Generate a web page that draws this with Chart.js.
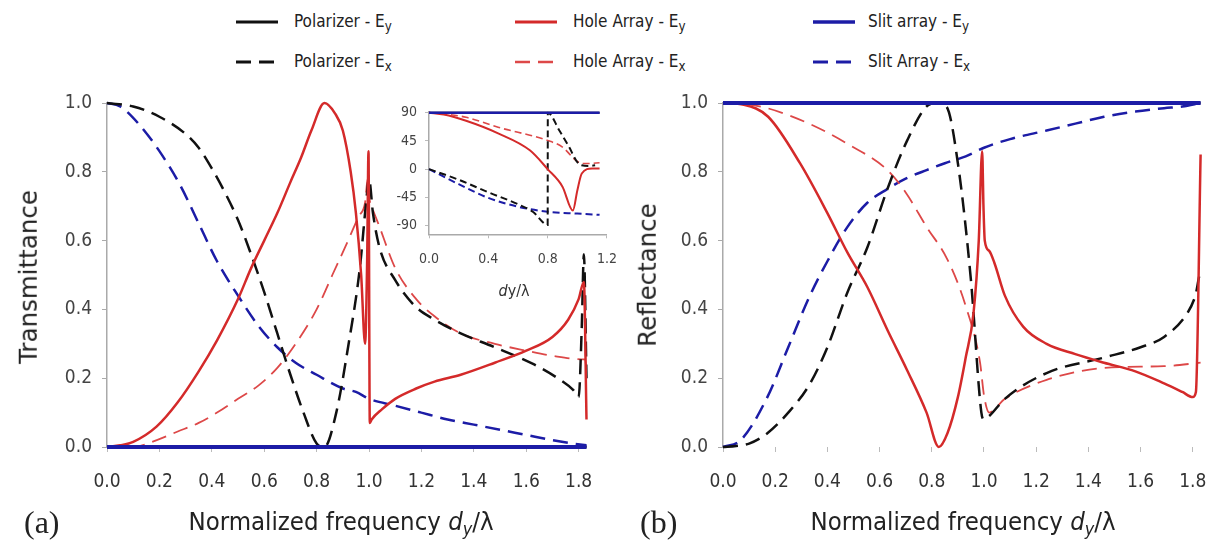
<!DOCTYPE html>
<html>
<head>
<meta charset="utf-8">
<script src="https://cdn.jsdelivr.net/npm/chart.js@4/dist/chart.umd.min.js"></script>
<style>
  body { margin: 0; background: #fff; width: 1231px; height: 548px; position: relative; overflow: hidden;
         font-family: "DejaVu Sans Condensed", "DejaVu Sans", sans-serif; color: #222; }
  canvas { position: absolute; top: 0; }
  .t { position: absolute; white-space: nowrap; line-height: 1; }
  .lg { font-size: 17px; }
  .lg sub { font-size: 0.78em; vertical-align: -0.3em; line-height: 0; }
  .lgl { position: absolute; }
  .ytitle { font-family: "DejaVu Sans", sans-serif; font-size: 24.5px; transform: translate(-50%, -50%) rotate(-90deg); }
  .xtitle { font-size: 25.5px; transform: translateX(-50%); }
  .xtitle i { font-style: italic; }
  .xtitle sub { font-size: 0.7em; vertical-align: -0.3em; line-height: 0; font-style: italic; }
  .panel { font-family: "Liberation Serif", "DejaVu Serif", serif; font-size: 32px; }
</style>
</head>
<body>

<!-- legend -->
<svg class="lgl" style="left:236px;top:18px" width="42" height="8"><line x1="0" y1="4" x2="42" y2="4" stroke="#111" stroke-width="3"/></svg>
<div class="t lg" style="left:294px;top:13px">Polarizer - E<sub>y</sub></div>
<svg class="lgl" style="left:236px;top:58px" width="42" height="8"><line x1="0" y1="4" x2="42" y2="4" stroke="#111" stroke-width="3" stroke-dasharray="15 8"/></svg>
<div class="t lg" style="left:294px;top:53px">Polarizer - E<sub>x</sub></div>

<svg class="lgl" style="left:515px;top:18px" width="42" height="8"><line x1="0" y1="4" x2="42" y2="4" stroke="#d42a2a" stroke-width="3"/></svg>
<div class="t lg" style="left:573px;top:13px">Hole Array - E<sub>y</sub></div>
<svg class="lgl" style="left:515px;top:58px" width="42" height="8"><line x1="0" y1="4" x2="42" y2="4" stroke="#dd4848" stroke-width="2.5" stroke-dasharray="15 8"/></svg>
<div class="t lg" style="left:573px;top:53px">Hole Array - E<sub>x</sub></div>

<svg class="lgl" style="left:813px;top:18px" width="42" height="8"><line x1="0" y1="4" x2="42" y2="4" stroke="#1c1ca6" stroke-width="3.5"/></svg>
<div class="t lg" style="left:868px;top:13px">Slit array - E<sub>y</sub></div>
<svg class="lgl" style="left:813px;top:58px" width="42" height="8"><line x1="0" y1="4" x2="42" y2="4" stroke="#1c1ca6" stroke-width="3" stroke-dasharray="15 8"/></svg>
<div class="t lg" style="left:868px;top:53px">Slit Array - E<sub>x</sub></div>

<canvas id="chartA" width="615" height="548" style="left:0"></canvas>
<canvas id="chartB" width="616" height="548" style="left:615px"></canvas>
<canvas id="chartInset" width="270" height="215" style="left:360px;top:95px"></canvas>

<div class="t ytitle" style="left:29px;top:277px">Transmittance</div>
<div class="t ytitle" style="left:648px;top:275px">Reflectance</div>
<div class="t xtitle" style="left:341px;top:509px">Normalized frequency <i>d</i><sub>y</sub>/λ</div>
<div class="t xtitle" style="left:963px;top:509px">Normalized frequency <i>d</i><sub>y</sub>/λ</div>
<div class="t panel" style="left:24px;top:506px">(a)</div>
<div class="t panel" style="left:640px;top:506px">(b)</div>
<div class="t" style="left:514px;top:283px;font-size:16px;transform:translateX(-50%);color:#333"><i>d</i>y/λ</div>

<script>
// ticks
const xTicks = [0, 0.2, 0.4, 0.6, 0.8, 1.0, 1.2, 1.4, 1.6, 1.8];
const yTicks = [0, 0.2, 0.4, 0.6, 0.8, 1.0];
const insetXTicks = [0, 0.4, 0.8, 1.2];
const insetYTicks = [-90, -45, 0, 45, 90];

// (a) transmittance
const flatX = [0, 1.83];
const polEyT = [0, 0];
const slitEyT = [0, 0];

const polExT_x = [0, 0.1, 0.2, 0.3, 0.35, 0.4, 0.45, 0.5, 0.55, 0.6, 0.65, 0.7, 0.75, 0.8, 0.83, 0.875, 0.92, 0.965, 0.99, 1.0, 1.015, 1.04, 1.1, 1.175, 1.25, 1.35, 1.48, 1.63, 1.72, 1.78, 1.8, 1.812, 1.82, 1.83];
const polExT_y = [1.0, 0.99, 0.96, 0.91, 0.87, 0.81, 0.74, 0.66, 0.56, 0.45, 0.33, 0.21, 0.1, 0.01, 0.0, 0.1, 0.29, 0.52, 0.72, 0.78, 0.68, 0.58, 0.485, 0.41, 0.37, 0.33, 0.29, 0.24, 0.2, 0.165, 0.145, 0.35, 0.56, 0.2];

const holeEyT_x = [0, 0.05, 0.1, 0.19, 0.27, 0.35, 0.42, 0.5, 0.55, 0.6, 0.65, 0.7, 0.74, 0.78, 0.83, 0.87, 0.9, 0.93, 0.95, 0.97, 0.985, 0.993, 0.998, 1.003, 1.01, 1.05, 1.1, 1.18, 1.25, 1.35, 1.48, 1.6, 1.7, 1.76, 1.8, 1.82, 1.83];
const holeEyT_y = [0, 0.005, 0.015, 0.06, 0.13, 0.22, 0.31, 0.43, 0.52, 0.6, 0.68, 0.77, 0.84, 0.92, 1.0, 0.97, 0.92, 0.8, 0.68, 0.5, 0.3, 0.55, 0.86, 0.07, 0.08, 0.11, 0.14, 0.17, 0.19, 0.21, 0.245, 0.28, 0.32, 0.37, 0.43, 0.48, 0.08];

const holeExT_x = [0, 0.1, 0.19, 0.27, 0.35, 0.42, 0.5, 0.58, 0.65, 0.72, 0.8, 0.86, 0.92, 0.96, 0.985, 0.995, 1.002, 1.01, 1.04, 1.1, 1.18, 1.25, 1.35, 1.48, 1.6, 1.7, 1.81, 1.825, 1.83];
const holeExT_y = [0, 0.0, 0.02, 0.045, 0.07, 0.1, 0.14, 0.18, 0.23, 0.3, 0.4, 0.5, 0.6, 0.67, 0.71, 0.78, 0.72, 0.7, 0.64, 0.52, 0.43, 0.38, 0.33, 0.3, 0.28, 0.265, 0.255, 0.255, 0.22];

const slitExT_x = [0, 0.05, 0.12, 0.2, 0.28, 0.35, 0.42, 0.5, 0.58, 0.65, 0.72, 0.8, 0.9, 0.95, 1.0, 1.1, 1.2, 1.3, 1.4, 1.5, 1.6, 1.7, 1.78, 1.83];
const slitExT_y = [1.0, 0.99, 0.94, 0.86, 0.76, 0.65, 0.54, 0.44, 0.35, 0.29, 0.245, 0.21, 0.17, 0.16, 0.14, 0.12, 0.1, 0.08, 0.065, 0.05, 0.035, 0.02, 0.01, 0.005];

// (b) reflectance
const polEyR = [1, 1];
const slitEyR = [1, 1];

const polExR_x = [0, 0.05, 0.1, 0.17, 0.25, 0.33, 0.4, 0.477, 0.553, 0.63, 0.705, 0.78, 0.82, 0.856, 0.9, 0.95, 0.99, 1.0, 1.02, 1.08, 1.24, 1.46, 1.6, 1.69, 1.78, 1.81, 1.83, 1.835];
const polExR_y = [0, 0.003, 0.01, 0.04, 0.1, 0.18, 0.29, 0.45, 0.58, 0.75, 0.89, 0.99, 1.0, 0.99, 0.825, 0.485, 0.1, 0.08, 0.09, 0.14, 0.215, 0.26, 0.29, 0.32, 0.39, 0.44, 0.505, 0.13];

const holeEyR_x = [0, 0.08, 0.173, 0.295, 0.4, 0.477, 0.553, 0.63, 0.705, 0.78, 0.827, 0.86, 0.9, 0.93, 0.96, 0.98, 0.993, 0.998, 1.003, 1.02, 1.04, 1.08, 1.15, 1.24, 1.35, 1.46, 1.58, 1.69, 1.76, 1.8, 1.812, 1.83];
const holeEyR_y = [1.0, 0.995, 0.96, 0.825, 0.68, 0.565, 0.465, 0.34, 0.224, 0.1, 0.0, 0.04, 0.145, 0.26, 0.39, 0.6, 0.86, 0.7, 0.6, 0.57, 0.535, 0.44, 0.35, 0.3, 0.27, 0.245, 0.22, 0.185, 0.16, 0.145, 0.16, 0.85];

const holeExR_x = [0, 0.1, 0.17, 0.33, 0.48, 0.63, 0.7, 0.78, 0.86, 0.93, 0.985, 1.0, 1.02, 1.08, 1.24, 1.46, 1.69, 1.83];
const holeExR_y = [1.0, 0.995, 0.985, 0.94, 0.88, 0.805, 0.74, 0.64, 0.545, 0.41, 0.245, 0.15, 0.1, 0.14, 0.195, 0.23, 0.235, 0.245];

const slitExR_x = [0, 0.068, 0.17, 0.25, 0.33, 0.4, 0.477, 0.553, 0.63, 0.7, 0.78, 0.85, 0.93, 1.0, 1.1, 1.24, 1.35, 1.46, 1.58, 1.69, 1.76, 1.83];
const slitExR_y = [0, 0.02, 0.145, 0.29, 0.435, 0.54, 0.64, 0.71, 0.75, 0.78, 0.805, 0.825, 0.845, 0.87, 0.895, 0.92, 0.94, 0.96, 0.975, 0.985, 0.99, 1.0];

// inset: phase (degrees)
const phaseFlatX = [0, 1.15];
const polEyP = [90, 90];
const slitEyP = [90, 90];
const polExP_x = [0, 0.2, 0.4, 0.6, 0.7, 0.8, 0.801, 0.88, 0.945, 1.0, 1.03, 1.08, 1.12];
const polExP_y = [0, -17, -37, -56, -68, -89, 90, 61, 35, 11, 6, 5, 6];
const slitExP_x = [0, 0.2, 0.4, 0.6, 0.8, 1.0, 1.15];
const slitExP_y = [0, -24, -46, -60, -68, -71, -73];
const holeEyP_x = [0, 0.1, 0.25, 0.466, 0.68, 0.8, 0.9, 0.97, 1.0, 1.03, 1.1, 1.15];
const holeEyP_y = [90, 87, 77, 57, 30, 0, -28, -66, -34, -7, 1, 1];
const holeExP_x = [0, 0.1, 0.25, 0.466, 0.8, 0.9, 0.99, 1.03, 1.08, 1.15];
const holeExP_y = [90, 88, 82.6, 66.7, 45.6, 35, 14, 9, 9, 10];

const BLACK = '#111', RED = '#d42a2a', RED2 = '#dd4848', BLUE = '#1c1ca6';
const DASH = [15, 8];
const tickFont = { family: "'DejaVu Sans Condensed', 'DejaVu Sans', sans-serif", size: 19 };

function line(xs, ys, color, width, dash) {
  return {
    data: xs.map((x, i) => ({ x: x, y: ys[i] })),
    borderColor: color,
    borderWidth: width,
    borderDash: dash || [],
    pointRadius: 0,
    cubicInterpolationMode: 'monotone',
    fill: false,
    clip: 6
  };
}

function setTicks(list) {
  return function (axis) { axis.ticks = list.map(v => ({ value: v })); };
}

function panelScales(xMax, yWidth, showXBorder) {
  return {
    x: {
      type: 'linear', min: 0, max: xMax,
      afterBuildTicks: setTicks(xTicks),
      afterFit: s => { s.height = 60; },
      ticks: { font: tickFont, color: '#333', padding: 19, maxRotation: 0, callback: v => v.toFixed(1) },
      grid: { drawOnChartArea: false, tickLength: 5, color: '#bbb' },
      border: { display: showXBorder, color: '#aaa', width: 1.5 }
    },
    y: {
      type: 'linear', min: 0, max: 1,
      afterBuildTicks: setTicks(yTicks),
      afterFit: s => { s.width = yWidth; },
      ticks: { font: tickFont, color: '#444', padding: 10, callback: v => v.toFixed(1) },
      grid: { drawOnChartArea: false, tickLength: 5, color: '#aaa' },
      border: { color: '#aaa', width: 1.5 }
    }
  };
}

const baseOptions = {
  responsive: false,
  animation: false,
  devicePixelRatio: 1,
  plugins: { legend: { display: false }, tooltip: { enabled: false } }
};

new Chart(document.getElementById('chartA'), {
  type: 'line',
  data: {
    datasets: [
      line(flatX, slitEyT, BLUE, 4),
      line(holeEyT_x, holeEyT_y, RED, 2.5),
      line(polExT_x, polExT_y, BLACK, 2.5, DASH),
      line(holeExT_x, holeExT_y, RED2, 1.8, DASH),
      line(slitExT_x, slitExT_y, BLUE, 2.5, DASH),
      line(flatX, polEyT, BLACK, 2.5)
    ]
  },
  options: Object.assign({}, baseOptions, {
    layout: { padding: { top: 103, right: 28.5, bottom: 41, left: 0 } },
    scales: panelScales(1.83, 107, true)
  })
});

new Chart(document.getElementById('chartB'), {
  type: 'line',
  data: {
    datasets: [
      line(flatX, slitEyR, BLUE, 4),
      line(holeEyR_x, holeEyR_y, RED, 2.5),
      line(polExR_x, polExR_y, BLACK, 2.5, DASH),
      line(holeExR_x, holeExR_y, RED2, 1.8, DASH),
      line(slitExR_x, slitExR_y, BLUE, 2.5, DASH),
      line(flatX, polEyR, BLACK, 2.5)
    ]
  },
  options: Object.assign({}, baseOptions, {
    layout: { padding: { top: 103, right: 30.4, bottom: 41, left: 0 } },
    scales: panelScales(1.83, 108, false)
  })
});

const insetFont = { family: "'DejaVu Sans Condensed', 'DejaVu Sans', sans-serif", size: 14 };

new Chart(document.getElementById('chartInset'), {
  type: 'line',
  data: {
    datasets: [
      line(phaseFlatX, slitEyP, BLUE, 2.5),
      line(holeEyP_x, holeEyP_y, RED, 2),
      line(polExP_x, polExP_y, BLACK, 2, [7, 4]),
      line(holeExP_x, holeExP_y, RED2, 1.6, [7, 4]),
      line(slitExP_x, slitExP_y, BLUE, 2, [7, 4]),
      line(phaseFlatX, polEyP, BLACK, 2)
    ]
  },
  options: Object.assign({}, baseOptions, {
    layout: { padding: { top: 15.7, right: 18, bottom: 35.7, left: 0 } },
    scales: {
      x: {
        type: 'linear', min: 0, max: 1.2,
        afterBuildTicks: setTicks(insetXTicks),
        afterFit: s => { s.height = 40; },
        ticks: { font: insetFont, color: '#444', padding: 13, maxRotation: 0, callback: v => v.toFixed(1) },
        grid: { drawOnChartArea: false, tickLength: 4, color: '#bbb' },
        border: { color: '#aaa', width: 1.5 }
      },
      y: {
        type: 'linear', min: -104, max: 92,
        afterBuildTicks: setTicks(insetYTicks),
        afterFit: s => { s.width = 69; },
        ticks: { font: insetFont, color: '#444', padding: 8 },
        grid: { drawOnChartArea: false, tickLength: 4, color: '#bbb' },
        border: { color: '#aaa', width: 1.5 }
      }
    }
  })
});
</script>
</body>
</html>
